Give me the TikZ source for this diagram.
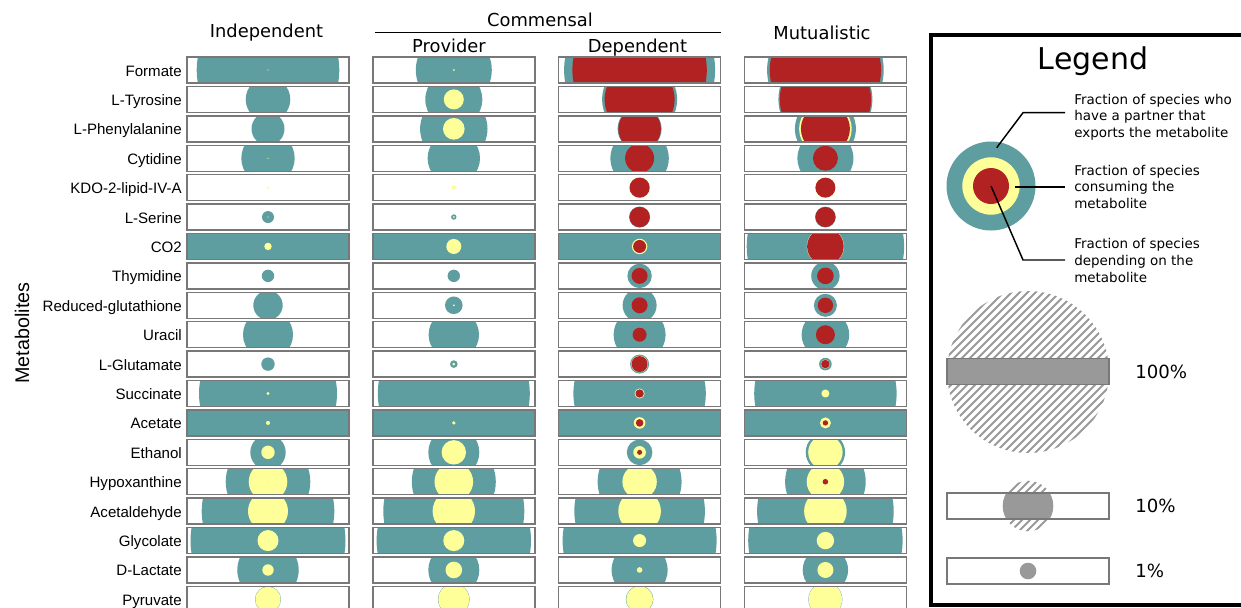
\documentclass[tikz,border=0pt]{standalone}
\usepackage{fontspec}
\setmainfont{DejaVu Sans}
\newfontfamily\arial{Liberation Sans}
\usetikzlibrary{calc}

\definecolor{turcoaz}{RGB}{95,158,160}
\definecolor{galben}{RGB}{255,255,153}
\definecolor{rosu}{RGB}{178,34,34}
\definecolor{linie}{RGB}{120,120,120}
\definecolor{gri}{RGB}{153,153,153}

\tikzset{
  bara/.style={draw=linie, line width=1.1pt, fill=white, minimum width=121.5pt, minimum height=19.5pt, inner sep=0pt},
  celula/.style n args={3}{bara, path picture={
    \fill[turcoaz] (path picture bounding box.center) circle[radius={max(#1,0.01)}];
    \fill[galben] (path picture bounding box.center) circle[radius={max(#2,0.01)}];
    \fill[rosu] (path picture bounding box.center) circle[radius={max(#3,0.01)}];
  }},
  legcel/.style={bara, path picture={
    \fill[gri] (path picture bounding box.center) circle[radius=#1];
  }},
  eticheta/.style={font=\arial\fontsize{11.3}{13}\selectfont, anchor=base east, inner sep=0pt},
  titlu/.style={font=\fontsize{13.4}{16}\selectfont, anchor=base, inner sep=0pt},
  explicatie/.style={font=\fontsize{10.1}{12.6}\selectfont, align=left, anchor=west, inner sep=0pt},
  procent/.style={font=\fontsize{13.6}{16}\selectfont, anchor=west, inner sep=0pt},
  hasura/.style={gri, line width=1.5pt},
}

\begin{document}
\begin{tikzpicture}[x=0.75pt, y=-0.75pt]
  \useasboundingbox (0,0) rectangle (1241,607);

  % titlurile coloanelor
  \node[titlu] (indep) at (266.5,37.7) {Independent};
  \node[titlu] (comens) at (540,26.7) {Commensal};
  \node[titlu] (prov) at (449,52.7) {Provider};
  \node[titlu] (depend) at (637.5,52.7) {Dependent};
  \node[titlu] (mutual) at (822,39.5) {Mutualistic};
  \coordinate (cst) at (375,32.3);
  \coordinate (cdr) at (721,32.3);
  \draw[line width=1.1pt] (cst) -- (cdr);
  \node[font=\arial\fontsize{14.8}{16}\selectfont, rotate=90] (axa) at (22,333) {Metabolites};

  % barele: exportatori/consumatori/dependenti pentru fiecare coloana
  \foreach \nume/\ea/\ca/\da/\eb/\cb/\db/\ec/\cc/\dc/\ed/\cd/\dd [count=\i from 0] in {
    Formate/71.3/0.6/0/38/1/0/75.5/0/67.2/58.3/0/55.7,
    L-Tyrosine/22.3/0/0/28.5/10/0/37.5/0/35/47/0/45.7,
    L-Phenylalanine/16.5/0/0/33.7/10.8/0/22/0/21.3/30.5/26.3/24.5,
    Cytidine/26.7/0.6/0/26.2/0/0/29.2/0/14.5/28/0/12.5,
    KDO-2-lipid-IV-A/0/1.3/0/0/2.3/0/0/10.4/10.1/0/10.3/10,
    L-Serine/6/0.6/0/2.7/1/0/10.5/0/10.2/10.4/0/10,
    CO2/90/3.7/0/90/7.5/0/90/7.7/6.5/78.7/18.6/18.3,
    Thymidine/6.2/0/0/6.2/0/0/12.2/0/8/14.2/0/8.3,
    Reduced-glutathione/14.7/0/0/8.8/1/0/17/0/8/11.5/0/7.7,
    Uracil/25/0/0/25.2/0/0/26/0/7/23.8/0/9.5,
    L-Glutamate/6.7/0/0/3.8/1.5/0/9.5/8.3/8/6.3/4.6/4.3,
    Succinate/69/1.7/0/76/0/0/66.2/5/4.2/71.2/4/0,
    Acetate/90/2/0/90/1.8/0/90/5.8/3.8/90/5.5/2.7,
    Ethanol/17.7/6.7/0/25.5/12.2/0/12.8/6.3/2.5/19.7/17.2/0,
    Hypoxanthine/42.3/19.3/0/42/19.3/0/42/17.2/0/40.3/18.7/2.8,
    Acetaldehyde/66.3/20/0/70.5/21.2/0/65.3/21.3/0/68.3/21.3/0,
    Glycolate/77.5/10.5/0/77.2/10.5/0/77/6.5/0/77.2/8.7/0,
    D-Lactate/30.7/5.7/0/25.5/8.3/0/28/2.8/0/22.7/8/0,
    Pyruvate/13/12.7/0/15.8/15.5/0/13.7/13.3/0/17/16.7/0
  }{
    \node[eticheta] (m\i) at (182,{76+29.41*\i}) {\nume};
    \node[celula={\ea}{\ca}{\da}] (a\i) at (268,{70+29.41*\i}) {};
    \node[celula={\eb}{\cb}{\db}] (b\i) at (453.8,{70+29.41*\i}) {};
    \node[celula={\ec}{\cc}{\dc}] (c\i) at (639.6,{70+29.41*\i}) {};
    \node[celula={\ed}{\cd}{\dd}] (d\i) at (825.4,{70+29.41*\i}) {};
  }

  % legenda
  \draw[line width=3pt] (1280,35.3) -- (931.3,35.3) -- (931.3,605) -- (1280,605);
  \node[font=\fontsize{22.5}{26}\selectfont, anchor=base, inner sep=0pt] (leg) at (1093,69.3) {Legend};

  \coordinate (centru) at (991,186);
  \fill[turcoaz] (centru) circle[radius=44.5];
  \fill[galben] (centru) circle[radius=28.7];
  \fill[rosu] (centru) circle[radius=18];

  \node[explicatie] (t1) at (1074,117.2) {Fraction of species who\\have a partner that\\exports the metabolite};
  \node[explicatie] (t2) at (1074,186.9) {Fraction of species\\consuming the\\metabolite};
  \node[explicatie] (t3) at (1074,260.7) {Fraction of species\\depending on the\\metabolite};
  \coordinate (p1) at (1065,112.7);
  \coordinate (p2) at (1065,187);
  \coordinate (p3) at (1065,260);
  \draw[line width=1.1pt] ($(centru)+(5.7,-38.3)$) -- ($(p1)+(-42,0)$) -- (p1);
  \draw[line width=1.1pt] ($(centru)+(24,1)$) -- (p2);
  \draw[line width=1.1pt] (centru) -- ($(p3)+(-42,0)$) -- (p3);

  % scara
  \coordinate (h1) at (1028,372);
  \begin{scope}
    \clip (h1) circle[radius=81];
    \foreach \k in {-240,-232,...,240}
      \draw[hasura] ($(h1)+(\k-100,100)$) -- ($(h1)+(\k+100,-100)$);
  \end{scope}
  \node[bara, fill=gri] (s100) at (1028,371.5) {};
  \node[procent] (l100) at (1135,372) {100\%};

  \coordinate (h2) at (1028,506);
  \begin{scope}
    \clip (h2) circle[radius=25.3];
    \foreach \k in {-80,-72,...,80}
      \draw[hasura] ($(h2)+(\k-30,30)$) -- ($(h2)+(\k+30,-30)$);
  \end{scope}
  \node[legcel=25.3] (s10) at (h2) {};
  \node[procent] (l10) at (1135,506) {10\%};

  \node[legcel=8.3] (s1) at (1028,571) {};
  \node[procent] (l1) at (1135,571) {1\%};
\end{tikzpicture}
\end{document}
